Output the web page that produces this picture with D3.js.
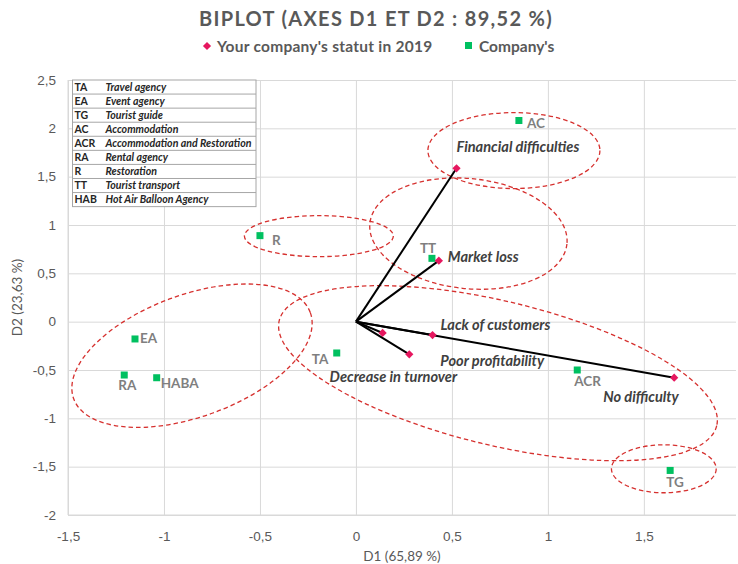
<!DOCTYPE html>
<html>
<head>
<meta charset="utf-8">
<script src="https://cdn.jsdelivr.net/npm/d3@7"></script>
<style>
  body { margin: 0; background: #fff; }
  svg { font-family: Lato, "Open Sans", sans-serif; }
</style>
</head>
<body>
<svg id="chart" width="738" height="564"></svg>
<script>
// companies (green squares)
var companyCodes = ['AC', 'R', 'TT', 'EA', 'RA', 'HABA', 'TA', 'ACR', 'TG'];
var companyD1 = [0.849, -0.50, 0.396, -1.151, -1.207, -1.038, -0.10, 1.153, 1.637];
var companyD2 = [2.081, 0.89, 0.655, -0.179, -0.552, -0.580, -0.324, -0.50, -1.539];

// company status in 2019 (pink diamonds, vectors from origin)
var statusNames = ['Financial difficulties', 'Market loss', 'Lack of customers', 'Decrease in turnover', 'Poor profitability', 'No difficulty'];
var statusD1 = [0.524, 0.432, 0.399, 0.139, 0.278, 1.658];
var statusD2 = [1.587, 0.631, -0.138, -0.117, -0.338, -0.580];

// legend table
var tableCodes = ['TA', 'EA', 'TG', 'AC', 'ACR', 'RA', 'R', 'TT', 'HAB'];
var tableNames = ['Travel agency', 'Event agency', 'Tourist guide', 'Accommodation', 'Accommodation and Restoration', 'Rental agency', 'Restoration', 'Tourist transport', 'Hot Air Balloon Agency'];

// grouping ellipses (data units)
var ellipseCx = [0.823, -0.193, 0.586, -0.854, 0.740, 1.604];
var ellipseCy = [1.770, 0.885, 0.911, -0.352, -0.533, -1.522];
var ellipseRx = [0.448, 0.388, 0.516, 0.656, 1.172, 0.273];
var ellipseRy = [0.393, 0.212, 0.569, 0.631, 0.745, 0.248];
var ellipseAngle = [0, 0, 6, -20, 13.5, 0];

var xTicks = [-1.5, -1, -0.5, 0, 0.5, 1, 1.5];
var yTicks = [-2, -1.5, -1, -0.5, 0, 0.5, 1, 1.5, 2, 2.5];

// label nudges in px (layout only)
var companyLabelOffset = {
    AC: [8, 3], R: [12, 5], TT: [-12, -10], EA: [5, 0], RA: [-6, 10],
    HABA: [4, 6], TA: [-25, 7], ACR: [-3, 11], TG: [-4, 12]
};
var statusLabelOffset = {
    'Financial difficulties': [0, -21], 'Market loss': [9, -4],
    'Lack of customers': [8, -10], 'Decrease in turnover': [-53, 44],
    'Poor profitability': [31, 7], 'No difficulty': [-71, 19]
};

var svg = d3.select('#chart');
var plotL = 68, plotR = 736, plotT = 80, plotB = 515;

var x = d3.scaleLinear().domain([-1.5, 1.98]).range([plotL, plotR]);
var y = d3.scaleLinear().domain([-2, 2.5]).range([plotB, plotT]);
var fmt = function (d) { return String(d).replace('.', ','); };
var diamond = d3.symbol(d3.symbolSquare, 34)();

// grid
var gx = svg.append('g').attr('transform', 'translate(0,' + plotB + ')')
    .call(d3.axisBottom(x).tickValues(xTicks).tickSize(-(plotB - plotT)).tickPadding(16).tickFormat(fmt));
var gy = svg.append('g').attr('transform', 'translate(' + plotL + ',0)')
    .call(d3.axisLeft(y).tickValues(yTicks).tickSize(-(plotR - plotL)).tickPadding(12).tickFormat(fmt));
[gx, gy].forEach(function (g) {
    g.select('.domain').remove();
    g.selectAll('line').attr('stroke', '#d9d9d9').attr('stroke-width', 1);
    g.selectAll('text').attr('fill', '#595959').attr('font-size', 13.5);
});
// bottom/left border lines
svg.append('line').attr('x1', plotL).attr('x2', plotR).attr('y1', plotB).attr('y2', plotB).attr('stroke', '#d9d9d9');
svg.append('line').attr('x1', plotL).attr('x2', plotL).attr('y1', plotT).attr('y2', plotB).attr('stroke', '#d9d9d9');

// title and axis titles
svg.append('text').attr('x', 376).attr('y', 26).attr('text-anchor', 'middle')
    .attr('font-size', 20).attr('font-weight', 'bold').attr('fill', '#595959').attr('letter-spacing', 1.3)
    .text('BIPLOT (AXES D1 ET D2 : 89,52 %)');
svg.append('text').attr('x', (plotL + plotR) / 2).attr('y', 561).attr('text-anchor', 'middle')
    .attr('font-size', 13.5).attr('fill', '#595959').text('D1 (65,89 %)');
svg.append('text').attr('transform', 'translate(22,' + (plotT + plotB) / 2 + ') rotate(-90)')
    .attr('text-anchor', 'middle').attr('font-size', 13.5).attr('fill', '#595959').text('D2 (23,63 %)');

// legend
var lg = svg.append('g').attr('font-size', 15.5).attr('font-weight', 'bold').attr('fill', '#595959');
lg.append('path').attr('d', diamond).attr('transform', 'translate(207,46) rotate(45)').attr('fill', '#e6175f');
lg.append('text').attr('x', 217).attr('y', 51.5).attr('letter-spacing', 0.25).text("Your company's statut in 2019");
lg.append('rect').attr('x', 465).attr('y', 42).attr('width', 7).attr('height', 7).attr('fill', '#00c060');
lg.append('text').attr('x', 479).attr('y', 51.5).text("Company's");

// table
var tx = 72.5, ty = 80, tw = 183.5, rowH = 14.07;
var tbl = svg.append('g');
tbl.append('rect').attr('x', tx).attr('y', ty).attr('width', tw).attr('height', rowH * tableCodes.length)
    .attr('fill', '#fff').attr('stroke', '#a6a6a6');
tableCodes.forEach(function (c, i) {
    if (i > 0) tbl.append('line').attr('x1', tx).attr('x2', tx + tw)
        .attr('y1', ty + i * rowH).attr('y2', ty + i * rowH).attr('stroke', '#a6a6a6');
    tbl.append('text').attr('x', tx + 2).attr('y', ty + i * rowH + 10.8)
        .attr('font-size', 10.5).attr('font-weight', 'bold').attr('fill', '#262626').text(c);
    tbl.append('text').attr('x', tx + 33).attr('y', ty + i * rowH + 10.8)
        .attr('font-size', 10.6).attr('font-weight', 'bold').attr('font-style', 'italic').attr('fill', '#262626').text(tableNames[i]);
});

// ellipses
ellipseCx.forEach(function (cx, i) {
    var px = x(cx), py = y(ellipseCy[i]);
    svg.append('ellipse').attr('cx', px).attr('cy', py)
        .attr('rx', x(ellipseRx[i]) - x(0)).attr('ry', y(0) - y(ellipseRy[i]))
        .attr('transform', 'rotate(' + ellipseAngle[i] + ',' + px + ',' + py + ')')
        .attr('fill', 'none').attr('stroke', '#d6312f').attr('stroke-width', 1.3).attr('stroke-dasharray', '4.5,3');
});

// vectors
statusNames.forEach(function (n, i) {
    svg.append('line').attr('x1', x(0)).attr('y1', y(0)).attr('x2', x(statusD1[i])).attr('y2', y(statusD2[i]))
        .attr('stroke', '#000').attr('stroke-width', 2);
});

// company squares and labels
companyCodes.forEach(function (c, i) {
    var px = x(companyD1[i]), py = y(companyD2[i]);
    svg.append('rect').attr('x', px - 3.5).attr('y', py - 3.5).attr('width', 7).attr('height', 7).attr('fill', '#00c060');
    var o = companyLabelOffset[c];
    svg.append('text').attr('x', px + o[0]).attr('y', py + o[1] + 4.5)
        .attr('font-size', 13.5).attr('font-weight', 'bold').attr('fill', '#7f7f7f').text(c);
});

// status diamonds and labels
statusNames.forEach(function (n, i) {
    var px = x(statusD1[i]), py = y(statusD2[i]);
    svg.append('path').attr('d', diamond)
        .attr('transform', 'translate(' + px + ',' + py + ') rotate(45)').attr('fill', '#e6175f');
    var o = statusLabelOffset[n];
    svg.append('text').attr('x', px + o[0]).attr('y', py + o[1] + 5)
        .attr('font-size', 14.6).attr('font-weight', 'bold').attr('font-style', 'italic').attr('fill', '#404040').text(n);
});
</script>
</body>
</html>
